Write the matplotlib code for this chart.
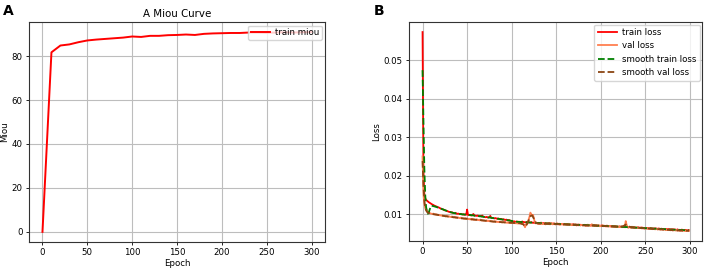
import numpy as np
from matplotlib import pyplot as plt

# Panel A: mean IoU every 10 epochs
miou_epochs = list(range(0, 301, 10))
train_miou = [0.0, 81.7, 84.8, 85.3, 86.3, 87.1, 87.5, 87.8, 88.1, 88.4,
              88.9, 88.7, 89.2, 89.2, 89.5, 89.6, 89.8, 89.6, 90.1, 90.3,
              90.4, 90.5, 90.5, 90.7, 90.7, 90.6, 90.7, 90.8, 90.7, 90.8, 90.9]

# Panel B: losses per epoch, in units of 1e-4
loss_epochs = list(range(300))
train_loss = [
    573, 215, 152, 141, 137, 135, 133, 131, 129.5, 128,
    126.5, 125, 124, 122.5, 121.5, 120.5, 119.5, 118.5, 117.5, 116.5,
    115, 114, 113, 112.5, 111, 110, 109.5, 108.5, 108, 106.5,
    106, 105.5, 104.5, 105, 103.5, 103, 102.5, 103.5, 101.5, 101,
    101.5, 100.5, 100, 101, 99.5, 99, 100, 98.5, 99, 98.5,
    112, 98, 97.5, 98, 97, 96.5, 97.5, 100.5, 96.5, 96,
    96, 95.5, 96.5, 95, 94.5, 95.5, 94, 96.5, 93.5, 93,
    92.5, 92, 93, 91.5, 91, 92, 95.5, 90.5, 90, 90.5,
    89.5, 89, 90, 88.5, 88, 89, 87.5, 87, 88, 86.5,
    86, 87, 85.5, 85, 86, 84.5, 84, 85, 83.5, 83,
    82, 81, 80.5, 81.5, 80, 80.5, 81, 79.5, 80.5, 80,
    79.5, 80, 81, 79, 79.5, 78.5, 79, 80, 78.5, 79,
    78.5, 78, 79.5, 78, 77.5, 78.5, 77, 78, 77.5, 76.5,
    77.5, 77, 76.5, 78, 76.5, 76, 77, 75.5, 76.5, 76,
    76, 75.5, 77, 75, 76, 75.5, 74.5, 76, 75, 74.5,
    75, 75.5, 74, 74.5, 75, 73.5, 74.5, 74, 73.5, 75,
    74, 73.5, 74.5, 73, 74, 72.5, 73.5, 73, 72.5, 74,
    73, 72.5, 73.5, 72, 72.5, 73, 71.5, 72.5, 72, 71.5,
    72, 71.5, 72.5, 71, 71.5, 72.5, 70.5, 71, 71.5, 70.5,
    71, 70.5, 72, 70, 71, 70.5, 69.5, 71, 70, 69.5,
    70, 70.5, 69, 70, 69.5, 68.5, 70, 69, 68.5, 69.5,
    69, 68.5, 69.5, 68, 68.5, 67.5, 69, 67.5, 68, 67.5,
    67.5, 68, 66.5, 67.5, 67, 66, 67.5, 66, 66.5, 67,
    66, 65.5, 67, 65.5, 66, 65, 66.5, 65, 65.5, 64.5,
    65, 64.5, 66, 64, 65, 64, 65.5, 63.5, 64.5, 64,
    63.5, 64.5, 63, 64, 62.5, 63.5, 64, 62.5, 63, 62.5,
    62.5, 63.5, 62, 62.5, 61.5, 63, 62, 61.5, 62.5, 61,
    61, 62, 60.5, 61.5, 61, 60, 61.5, 60.5, 60, 61,
    60, 61, 59.5, 60.5, 59.5, 59, 60.5, 59, 59.5, 58.5,
    59, 60, 58.5, 59, 58, 59, 58.5, 57.5, 58.5, 58,
]
val_loss = [
    250, 152, 126, 116, 111, 108, 106, 104, 103, 102,
    101, 100.5, 101.5, 99.5, 100, 98.5, 99.5, 97.5, 98.5, 97,
    97.5, 96, 97, 95.5, 96.5, 95, 94, 96, 94.5, 93.5,
    94.5, 93, 92.5, 94, 92, 91.5, 93, 91, 92, 90.5,
    91.5, 90, 89.5, 91, 89, 90, 88.5, 88, 89.5, 87.5,
    89, 87, 88, 86.5, 87.5, 86, 88, 85.5, 86.5, 85,
    85.5, 86.5, 84.5, 85, 84, 86, 83.5, 84.5, 83, 84,
    83, 82.5, 84, 82, 83, 81.5, 82.5, 81, 82, 80.5,
    81, 82, 80, 81, 79.5, 80.5, 79, 81, 79.5, 78.5,
    79, 80, 78.5, 79.5, 78, 77.5, 79, 77.5, 78, 77,
    77.5, 78.5, 77, 76.5, 78, 76, 77, 75.5, 77.5, 76,
    76.5, 75, 77, 74.5, 71, 66, 73, 75.5, 80, 86,
    93, 104, 100, 96, 98, 88, 79, 76, 77.5, 75,
    76, 74.5, 75.5, 77, 74, 75.5, 74.5, 76, 73.5, 75,
    76.5, 74, 75.5, 73.5, 75, 77, 73.5, 74.5, 76, 73,
    74.5, 76, 73, 75.5, 72.5, 74, 73.5, 75, 72.5, 74,
    73, 74.5, 72, 73.5, 75, 72, 73, 71.5, 73.5, 72,
    71.5, 73, 72, 70.5, 72.5, 71, 73, 70.5, 71.5, 72.5,
    70.5, 72, 71, 69.5, 71.5, 70, 72.5, 70.5, 69.5, 71,
    74, 70, 71.5, 69.5, 70.5, 72, 69, 70, 71, 68.5,
    70, 69, 71.5, 68.5, 70, 69.5, 68, 70.5, 69, 67.5,
    69, 68.5, 67, 69.5, 68, 67.5, 69, 66.5, 68, 67,
    66.5, 68.5, 67, 66, 67.5, 69, 66.5, 68, 82, 72,
    66.5, 65.5, 67, 66, 65, 67.5, 65.5, 64.5, 66, 65,
    64, 66, 64.5, 63.5, 65.5, 64, 63, 65, 63.5, 62.5,
    64, 63, 62, 64, 62.5, 61.5, 63.5, 62, 61, 63,
    61.5, 60.5, 62.5, 61, 60, 62, 60.5, 59.5, 61.5, 60,
    59.5, 61, 60, 58.5, 60.5, 59, 58.5, 60, 58, 59.5,
    58.5, 57.5, 59.5, 58, 57.5, 59, 57, 58.5, 57.5, 56.5,
    58, 57, 56.5, 58.5, 57, 56, 58, 56.5, 57.5, 57,
]

smooth_epochs = [0, 1, 2, 3, 4, 5, 6, 7, 8, 9, 10, 12, 15,
                 20, 25, 30, 35, 40, 45, 50, 55, 60, 65, 70, 75, 80, 85, 90, 95, 100, 105, 110,
                 113, 115, 117, 119, 121, 123, 125, 127,
                 130, 135, 140, 145, 150, 155, 160, 165, 170, 175, 180, 185, 190, 195, 200,
                 205, 210, 215, 220, 225, 228, 231,
                 235, 240, 245, 250, 255, 260, 265, 270, 275, 280, 285, 290, 295, 299]
smooth_train_loss = [474, 340, 220, 150, 118, 108, 101, 104, 112, 118, 122, 121, 119,
                     115, 110.5, 106, 103, 101, 99.5, 98.5, 97.5, 95.5, 94.5, 92.5, 91.5, 89.5,
                     88, 86, 84.5, 82.5, 80.5, 79.5,
                     79.5, 79, 78.8, 78.6, 78.3, 78, 77.8, 77.3,
                     77, 76.5, 75.8, 75.2, 74.8, 74.2, 73.6, 73.2, 72.8, 72.2, 71.8, 71.2, 70.8,
                     70.3, 69.8, 69.2, 68.8, 68.2, 67.6, 66.9, 66.6, 66.2,
                     65.6, 65, 64.4, 63.6, 63.2, 62.4, 61.9, 61.2, 60.6, 59.9, 59.3, 58.8, 58.3, 58]
smooth_val_loss = [238, 175, 135, 118, 110, 106, 104, 103, 102, 101.5, 101, 100, 99,
                   97, 95, 93.5, 92, 90.5, 89, 88, 86.5, 85.5, 84.5, 83, 82, 80.5,
                   80, 79, 78, 77.5, 77, 76,
                   73.5, 68, 73, 83, 95, 97, 88, 78,
                   75.5, 75, 75, 74.8, 74.3, 73.8, 73.3, 72.8, 72.2, 71.6, 71, 70.6, 70.8,
                   70.2, 69.6, 69, 68.4, 67.9, 67.4, 68.5, 73, 68,
                   66, 65, 64, 63, 62.4, 61.6, 61, 60, 59.4, 58.5, 58, 57.4, 57, 57]

fs = 6.2
plt.rcParams['font.family'] = 'DejaVu Sans'
plt.rcParams['axes.edgecolor'] = '#333333'
plt.rcParams['axes.linewidth'] = 0.8

fig = plt.figure(figsize=(7.08, 2.73), dpi=100)
ax1 = fig.add_axes([0.041, 0.114, 0.418, 0.805])
ax2 = fig.add_axes([0.578, 0.117, 0.414, 0.802])

# Miou curve
ax1.plot(miou_epochs, train_miou, color='red', linewidth=1.4, label='train miou')
ax1.set_title('A Miou Curve', fontsize=7.4, pad=4)
ax1.set_xlabel('Epoch', fontsize=fs, labelpad=1)
ax1.set_ylabel('Miou', fontsize=fs, labelpad=2)
ax1.grid(True, color='#bdbdbd', linewidth=0.8)
ax1.legend(loc='upper right', fontsize=fs, handlelength=2.2, borderpad=0.3,
           handletextpad=0.6, borderaxespad=0.4)

# Loss curves
scale = 1e-4
ax2.plot(loss_epochs, np.array(train_loss) * scale, color='red', linewidth=1.3, label='train loss')
ax2.plot(loss_epochs, np.array(val_loss) * scale, color='coral', linewidth=1.3, label='val loss')
ax2.plot(smooth_epochs, np.array(smooth_train_loss) * scale, color='green', linestyle='--',
         linewidth=1.3, label='smooth train loss')
ax2.plot(smooth_epochs, np.array(smooth_val_loss) * scale, color='#8B4513', linestyle='--',
         linewidth=1.3, label='smooth val loss')
ax2.set_xlabel('Epoch', fontsize=fs, labelpad=1)
ax2.set_ylabel('Loss', fontsize=fs, labelpad=2)
ax2.grid(True, color='#bdbdbd', linewidth=0.8)
ax2.legend(loc='upper right', fontsize=fs, handlelength=2.2, borderpad=0.4,
           handletextpad=0.6, borderaxespad=0.3, labelspacing=0.5)

for ax in (ax1, ax2):
    ax.tick_params(labelsize=fs, length=2.5, width=0.6, pad=2)
    ax.set_xticks([0, 50, 100, 150, 200, 250, 300])

fig.text(0.004, 0.985, 'A', fontsize=10, fontweight='bold', va='top', ha='left')
fig.text(0.528, 0.985, 'B', fontsize=10, fontweight='bold', va='top', ha='left')

fig.savefig('out.png', dpi=100)
